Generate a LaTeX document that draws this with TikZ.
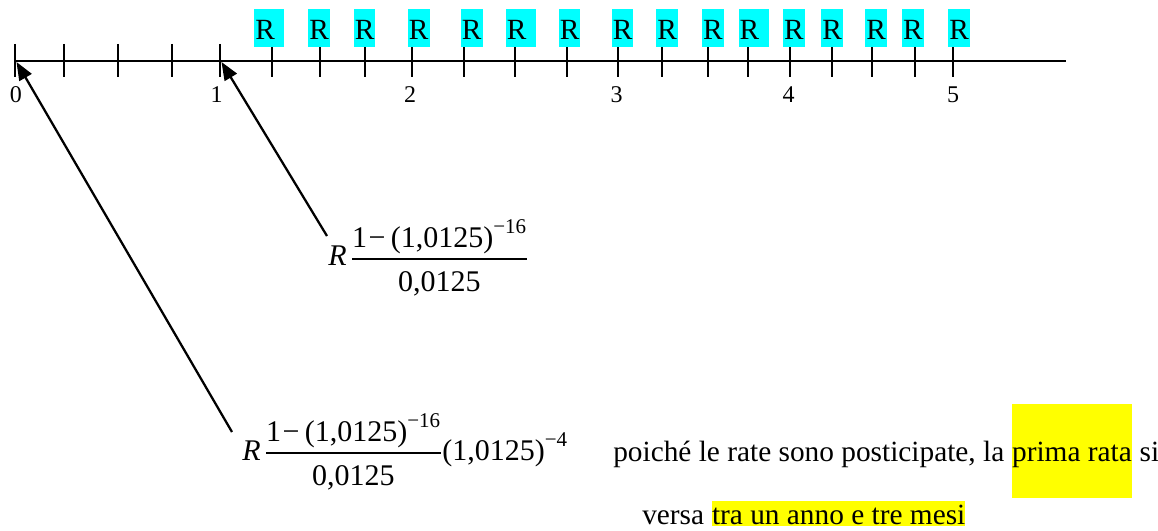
\documentclass[tikz,border=0pt]{standalone}
\usepackage{amsmath}
\usepackage{fontspec}
\setmainfont{Liberation Serif}
\usetikzlibrary{arrows.meta}
\definecolor{hlcyan}{RGB}{0,255,255}
\definecolor{hlyellow}{RGB}{255,255,0}
\newcommand{\numer}{\text{1\kern1pt−\kern4pt(1,0125)}^{\text{−16}}}
\newcommand{\denom}{\rule{0pt}{20.8pt}\text{0,0125}}
\begin{document}
\begin{tikzpicture}[x=0.75pt,y=-0.75pt,
  axisline/.style={line width=1.1pt},
  tickline/.style={line width=1pt},
  rbox/.style={fill=hlcyan, inner xsep=0.75pt, inner ysep=0pt, text height=22.7pt, text depth=5.6pt, anchor=base west, font=\fontsize{22}{24}\selectfont},
  ticklabel/.style={anchor=base, inner sep=0pt, font=\fontsize{18}{20}\selectfont},
  formula/.style={anchor=base west, inner sep=0pt, font=\fontsize{22.5}{27}\selectfont},
  body/.style={inner sep=0pt, anchor=base west, font=\fontsize{22}{26}\selectfont},
  hl/.style={body, fill=hlyellow},
  pointer/.style={line width=1.7pt, -{Triangle[length=13.5pt,width=10.5pt]}}]

\useasboundingbox (0,0) rectangle (1158,531);

% axis
\coordinate (a0) at (14,61);
\coordinate (aend) at (1066,61);
\draw[axisline] (a0) -- (aend);

% ticks
\foreach \x [count=\i from 0] in {15,64,118,172,220,272,320,365,412,464,515,567,618,662,708,748,790,832,872,915,953} {
  \coordinate (t\i) at (\x,61);
  \draw[tickline] (\x,44) -- (\x,77);
}

% tick labels
\node[ticklabel] (l0) at (16,103) {0};
\node[ticklabel] (l1) at (216.7,103) {1};
\node[ticklabel] (l2) at (410,103) {2};
\node[ticklabel] (l3) at (616.5,103) {3};
\node[ticklabel] (l4) at (788.6,103) {4};
\node[ticklabel] (l5) at (953,103) {5};

% R boxes
\node[rbox] (r1) at (254,39.3) {R\kern6.3pt};
\node[rbox] (r2) at (308.2,39.3) {R};
\node[rbox] (r3) at (353.6,39.3) {R};
\node[rbox] (r4) at (407.7,39.3) {R};
\node[rbox] (r5) at (460.7,39.3) {R};
\node[rbox] (r6) at (505.5,39.3) {R\kern6.3pt};
\node[rbox] (r7) at (558.5,39.3) {R};
\node[rbox] (r8) at (611.6,39.3) {R};
\node[rbox] (r9) at (656.2,39.3) {R};
\node[rbox] (r10) at (701.8,39.3) {R};
\node[rbox] (r11) at (738.4,39.3) {R\kern6.3pt};
\node[rbox] (r12) at (782.8,39.3) {R};
\node[rbox] (r13) at (821,39.3) {R};
\node[rbox] (r14) at (865.2,39.3) {R};
\node[rbox] (r15) at (901.8,39.3) {R};
\node[rbox] (r16) at (948,39.3) {R};

% formulas
\node[formula] (f1) at (328,266) {\textit{R}\kern3pt$\genfrac{}{}{1pt}{0}{\numer}{\denom}$};
\node[formula] (f2) at (242,460) {\textit{R}\kern3pt$\genfrac{}{}{1pt}{0}{\numer}{\denom}\text{(1,0125)}^{\text{−4}}$};

% arrows
\coordinate (s1) at (327,236);
\coordinate (p1) at (221.5,62);
\coordinate (s0) at (232,432);
\coordinate (p0) at (16.5,62);
\draw[pointer] (s1) -- (p1);
\draw[pointer] (s0) -- (p0);

% text
\node[body] (txa) at (613,461) {poiché le rate sono posticipate, la\kern0.25em};
\node[hl, text height=42.75pt, text depth=27.75pt] (txb) at (txa.base east) {prima rata};
\node[body] (txc) at (txb.base east) {\kern0.25em si};
\node[body] (txd) at (642,524) {versa\kern0.25em};
\node[hl, text height=17pt, text depth=1.5pt] (txe) at (txd.base east) {tra un anno e tre mesi};
\end{tikzpicture}
\end{document}
